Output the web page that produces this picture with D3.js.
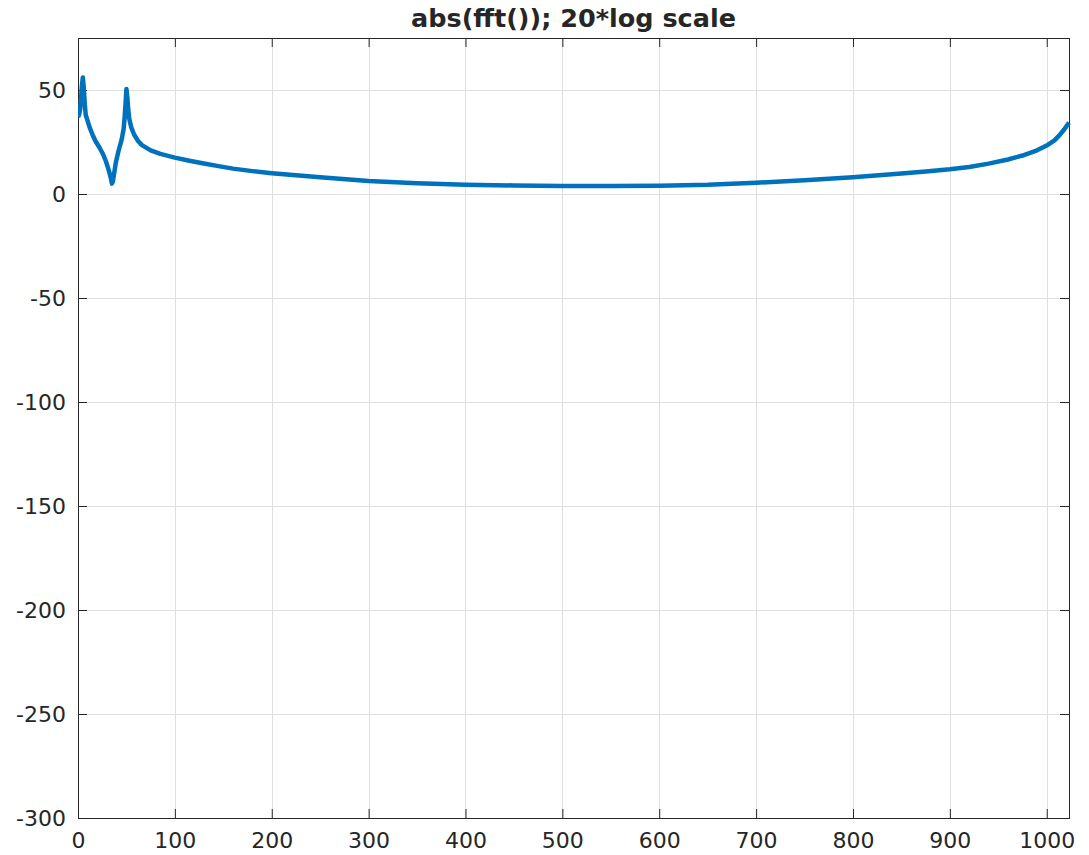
<!DOCTYPE html>
<html>
<head>
<meta charset="utf-8">
<script src="https://d3js.org/d3.v7.min.js"></script>
<style>
  body { margin: 0; background: #fff; }
  text { font-family: "DejaVu Sans", sans-serif; fill: #262626; }
</style>
</head>
<body>
<svg width="1089" height="855"></svg>
<script>
// fft bin index and magnitude in dB
var bins = [0, 1, 2, 3, 4, 5, 6, 7, 8, 10, 12, 15, 18, 22, 26, 29, 32, 34, 35, 36, 37, 39, 42, 45, 47, 48, 49, 50, 51, 52, 53, 55, 58, 62, 66, 75, 85, 100, 115, 130, 145, 160, 180, 200, 250, 300, 350, 400, 450, 500, 550, 600, 650, 700, 750, 800, 850, 875, 900, 920, 940, 960, 975, 990, 1001, 1008, 1013, 1018, 1023];
var magDb = [37, 38, 40, 45, 52, 56, 51, 43, 38, 35, 32, 28.5, 25.5, 22.5, 19, 15.5, 11, 7.5, 5, 6, 9, 15, 21, 26, 31, 36, 43, 50.5, 46, 40, 36, 32, 28.5, 25.5, 23.5, 21, 19.3, 17.5, 16, 14.7, 13.4, 12.2, 11, 10, 8, 6.3, 5.2, 4.5, 4.1, 3.9, 3.9, 4.0, 4.4, 5.4, 6.6, 8.0, 9.8, 10.8, 11.9, 13.0, 14.6, 16.6, 18.5, 21.0, 23.6, 25.8, 28.2, 31.0, 34.3];

var xTicks = [0, 100, 200, 300, 400, 500, 600, 700, 800, 900, 1000];
var yTicks = [-300, -250, -200, -150, -100, -50, 0, 50];
var title = "abs(fft()); 20*log scale";

var svg = d3.select("svg");
var m = {top: 38, right: 20, bottom: 37, left: 78};
var w = 1089 - m.left - m.right,
    h = 855 - m.top - m.bottom;

var x = d3.scaleLinear().domain([0, 1023]).range([0, w]);
var y = d3.scaleLinear().domain([-300, 75]).range([h, 0]);
var fmt = function(d){ return String(d); };

var g = svg.append("g").attr("transform", "translate(" + m.left + "," + m.top + ")");

// grid
g.append("g").selectAll("line").data(xTicks.filter(function(d){ return d > 0; }))
  .enter().append("line")
  .attr("x1", function(d){ return Math.round(x(d)) + 0.5; })
  .attr("x2", function(d){ return Math.round(x(d)) + 0.5; })
  .attr("y1", 0).attr("y2", h)
  .attr("stroke", "#dfdfdf").attr("stroke-width", 1);
g.append("g").selectAll("line").data(yTicks.filter(function(d){ return d > -300; }))
  .enter().append("line")
  .attr("y1", function(d){ return Math.round(y(d)) + 0.5; })
  .attr("y2", function(d){ return Math.round(y(d)) + 0.5; })
  .attr("x1", 0).attr("x2", w)
  .attr("stroke", "#dfdfdf").attr("stroke-width", 1);

// axes, ticks inward, box on
var tk = 9;
var xb = g.append("g").attr("transform", "translate(0," + h + ")")
  .call(d3.axisBottom(x).tickValues(xTicks).tickSizeInner(-tk).tickSizeOuter(0).tickPadding(14).tickFormat(fmt));
var xt = g.append("g")
  .call(d3.axisTop(x).tickValues(xTicks).tickSizeInner(-tk).tickSizeOuter(0).tickFormat(""));
var yl = g.append("g")
  .call(d3.axisLeft(y).tickValues(yTicks).tickSizeInner(-tk).tickSizeOuter(0).tickPadding(12).tickFormat(fmt));
var yr = g.append("g").attr("transform", "translate(" + w + ",0)")
  .call(d3.axisRight(y).tickValues(yTicks).tickSizeInner(-tk).tickSizeOuter(0).tickFormat(""));

[xb, xt, yl, yr].forEach(function(a) {
  a.select(".domain").remove();
  a.selectAll("line").attr("stroke", "#262626");
  a.selectAll("text").style("font-size", "22px").attr("fill", "#262626").style("font-family", "DejaVu Sans");
});
yl.selectAll("text").attr("dy", "0.36em");

g.append("rect").attr("x", 0.5).attr("y", 0.5).attr("width", w).attr("height", h)
  .attr("fill", "none").attr("stroke", "#262626").attr("stroke-width", 1);

// curve
var pts = bins.map(function(b, i){ return [b, magDb[i]]; });
g.append("clipPath").attr("id", "c").append("rect").attr("width", w + 2).attr("height", h);
g.append("path").datum(pts)
  .attr("clip-path", "url(#c)")
  .attr("fill", "none")
  .attr("stroke", "#0072BD")
  .attr("stroke-width", 4.5)
  .attr("stroke-linejoin", "round")
  .attr("d", d3.line().x(function(d){ return x(d[0]); }).y(function(d){ return y(d[1]); }));

svg.append("text")
  .attr("x", m.left + w / 2).attr("y", 27)
  .attr("text-anchor", "middle")
  .style("font-size", "25.5px").style("font-weight", "bold")
  .attr("fill", "#000")
  .text(title);
</script>
</body>
</html>
